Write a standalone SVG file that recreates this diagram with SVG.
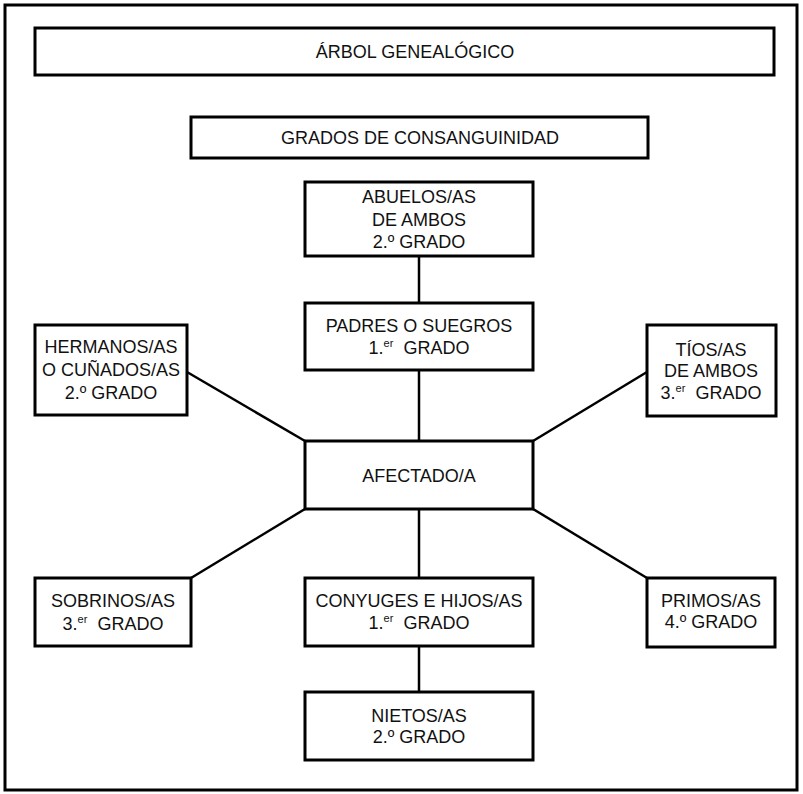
<svg xmlns="http://www.w3.org/2000/svg" width="803" height="794" viewBox="0 0 803 794">
<style>
.box{fill:#fff;stroke:#000;stroke-width:3}
.frame{fill:#fff;stroke:#000;stroke-width:3}
.t{font-family:"Liberation Sans",Arial,sans-serif;font-size:18px;fill:#111;text-anchor:middle}
.sup{font-size:11px}
.con line{stroke:#000;stroke-width:2.5}
</style>
<rect class="frame" x="5" y="5" width="792" height="785"/>
<g class="con">
<line x1="419" y1="256" x2="419" y2="303"/>
<line x1="419" y1="370" x2="419" y2="441"/>
<line x1="187" y1="372" x2="305" y2="441"/>
<line x1="647" y1="372" x2="533" y2="441"/>
<line x1="305" y1="509" x2="191" y2="578"/>
<line x1="533" y1="509" x2="647" y2="578"/>
<line x1="419" y1="509" x2="419" y2="578"/>
<line x1="419" y1="646" x2="419" y2="692"/>
</g>
<g id="titulo"><rect class="box" x="35" y="28" width="739" height="47"/><text class="t" x="415" y="58">ÁRBOL GENEALÓGICO</text></g>
<g id="grados"><rect class="box" x="191" y="117" width="457" height="41"/><text class="t" x="420" y="144">GRADOS DE CONSANGUINIDAD</text></g>
<g id="abuelos"><rect class="box" x="305" y="182" width="228" height="74"/>
<text class="t" x="419" y="203">ABUELOS/AS</text><text class="t" x="419" y="226">DE AMBOS</text><text class="t" x="419" y="248">2.º GRADO</text></g>
<g id="padres"><rect class="box" x="305" y="303" width="228" height="67"/>
<text class="t" x="419" y="332">PADRES O SUEGROS</text><text class="t" x="419" y="354" xml:space="preserve">1.<tspan class="sup" dy="-7">er</tspan><tspan dy="7">  GRADO</tspan></text></g>
<g id="hermanos"><rect class="box" x="35" y="325" width="152" height="90"/>
<text class="t" x="111" y="353">HERMANOS/AS</text><text class="t" x="111" y="376">O CUÑADOS/AS</text><text class="t" x="111" y="399">2.º GRADO</text></g>
<g id="tios"><rect class="box" x="647" y="325" width="129" height="91"/>
<text class="t" x="711" y="356">TÍOS/AS</text><text class="t" x="711" y="377">DE AMBOS</text><text class="t" x="711" y="399" xml:space="preserve">3.<tspan class="sup" dy="-7">er</tspan><tspan dy="7">  GRADO</tspan></text></g>
<g id="afectado"><rect class="box" x="305" y="441" width="228" height="68"/>
<text class="t" x="419" y="482">AFECTADO/A</text></g>
<g id="sobrinos"><rect class="box" x="35" y="578" width="156" height="68"/>
<text class="t" x="113" y="607">SOBRINOS/AS</text><text class="t" x="113" y="630" xml:space="preserve">3.<tspan class="sup" dy="-7">er</tspan><tspan dy="7">  GRADO</tspan></text></g>
<g id="conyuges"><rect class="box" x="305" y="578" width="228" height="68"/>
<text class="t" x="419" y="607">CONYUGES E HIJOS/AS</text><text class="t" x="419" y="629" xml:space="preserve">1.<tspan class="sup" dy="-7">er</tspan><tspan dy="7">  GRADO</tspan></text></g>
<g id="primos"><rect class="box" x="647" y="578" width="128" height="69"/>
<text class="t" x="711" y="607">PRIMOS/AS</text><text class="t" x="711" y="628">4.º GRADO</text></g>
<g id="nietos"><rect class="box" x="305" y="692" width="228" height="68"/>
<text class="t" x="419" y="722">NIETOS/AS</text><text class="t" x="419" y="743">2.º GRADO</text></g>
</svg>
